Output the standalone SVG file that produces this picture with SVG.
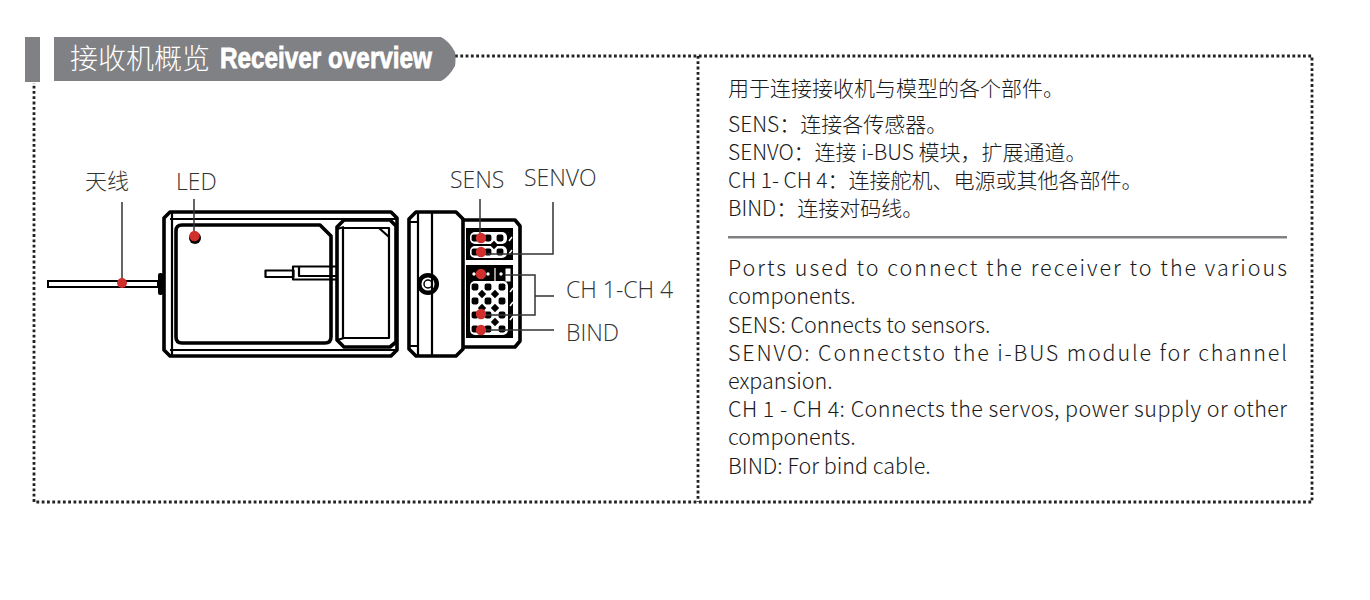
<svg xmlns="http://www.w3.org/2000/svg" width="1370" height="600" viewBox="0 0 1370 600">
<style>
.dot{fill:none;stroke:#222;stroke-width:2.800;stroke-dasharray:2.800 2.500}
.lbl{font-family:"Open Sans","Noto Sans CJK SC",sans-serif;font-weight:300;font-size:23px;fill:#333}
.t{font-family:"Noto Sans CJK SC","Noto Sans",sans-serif;font-size:21px;fill:#1a1a1a;font-weight:300}
.e{font-size:21.500px}
.k{fill:none;stroke:#000;stroke-width:2.2;stroke-linejoin:round}
.th{fill:none;stroke:#000;stroke-width:3.6;stroke-linejoin:round}
.red{fill:#d12f2c}
.conn{fill:none;stroke:#333;stroke-width:1.5}
</style>
<defs>
<rect id="pin" x="-3.400" y="-3.400" width="6.800" height="6.800" rx="1.800" fill="#000"/>
<path id="dia" d="M0-4.200L4.200 0L0 4.200L-4.200 0Z" fill="#000"/>
</defs>
<rect width="1370" height="600" fill="#fff"/>
<g id="frame">
<path class="dot" d="M455 56H1312V502H34V83"/>
<path class="dot" d="M698 56V502"/>
</g>
<g id="header">
<rect x="25" y="37" width="15" height="45" fill="#808184"/>
<path d="M54 37H441Q449 41 455 52Q456 59 455 66Q449 77 441 81H54Z" fill="#808184"/>
<text x="70" y="69" font-family="'Noto Sans CJK SC',sans-serif" font-weight="200" font-size="28" fill="#fff">接收机概览</text>
<text x="220" y="68" font-family="'Liberation Sans',sans-serif" font-weight="700" font-size="29" fill="#fff" stroke="#fff" stroke-width=".8" textLength="212" lengthAdjust="spacingAndGlyphs">Receiver overview</text>
</g>
<g id="receiver-top">
<path class="th" d="M170 212H391L397 218V350L391 356H170L164 350V218Z"/>
<path class="k" d="M170 219H397M170 350H397M172 212V356"/>
<path class="th" d="M182 225H320L331 236V337Q331 343 325 343H182Q176 343 176 337V231Q176 225 182 225Z"/>
<path class="th" d="M344 220H390L396 226V342L390 347H344L337 340V227Z"/>
<path class="k" d="M343 228H389V338H343Z"/>
<path class="k" d="M337 229L344 227M337 340L344 338M379 228L389 237"/>
<rect x="265.500" y="270.500" width="28" height="6.500" class="k" fill="#fff"/>
<path class="k" d="M336 266.500H293V279.500H336"/>
<path class="k" d="M299 266.500V276H336"/>
</g>
<g id="antenna">
<rect x="48" y="281" width="110" height="6" fill="#fff" stroke="#000" stroke-width="2"/>
<rect x="158" y="273" width="5" height="22" rx="2" fill="#000"/>
</g>
<g id="receiver-side">
<path class="th" d="M416 212H456L463 219V349L456 356H416L409 349V219Z"/>
<path class="k" d="M418 212V356M432 212V356M410 222H418M410 346H418"/>
<path class="th" d="M463 220H515L520 226V341L515 347H463"/>
<circle cx="428" cy="284" r="8.800" fill="none" stroke="#000" stroke-width="4.500"/>
<circle cx="428" cy="284" r="4" fill="none" stroke="#000" stroke-width="1.500"/>
<rect x="466" y="228" width="47" height="32" fill="#000"/>
<rect x="466" y="265" width="47" height="73" fill="#000"/>
<g id="ports-top">
<rect x="470" y="232" width="37" height="12" rx="5" fill="#fff"/>
<rect x="470" y="246" width="37" height="12" rx="5" fill="#fff"/>
<use href="#pin" x="475" y="238"/><use href="#pin" x="488" y="238"/><use href="#pin" x="500" y="238"/>
<use href="#pin" x="475" y="252"/><use href="#pin" x="488" y="252"/><use href="#pin" x="500" y="252"/>
<use href="#dia" x="494" y="245"/>
</g>
<g id="ports-grid">
<rect x="505" y="268" width="6" height="14" fill="#fff" stroke="#000"/>
<path d="M495 268V281" stroke="#fff" stroke-width="1.200"/>
<circle cx="474" cy="274" r="1.700" fill="#fff"/><circle cx="488" cy="274" r="1.700" fill="#fff"/><circle cx="501" cy="274" r="1.700" fill="#fff"/>
<rect x="470" y="281" width="38" height="54" rx="5" fill="#fff"/>
<use href="#pin" x="475" y="287"/><use href="#pin" x="488" y="287"/><use href="#pin" x="502" y="287"/>
<use href="#dia" x="482" y="294"/><use href="#dia" x="495" y="294"/>
<use href="#pin" x="475" y="301"/><use href="#pin" x="488" y="301"/><use href="#pin" x="502" y="301"/>
<use href="#dia" x="482" y="308"/><use href="#dia" x="495" y="308"/>
<use href="#pin" x="475" y="315"/><use href="#pin" x="488" y="315"/><use href="#pin" x="502" y="315"/>
<use href="#dia" x="495" y="322"/>
<use href="#pin" x="475" y="329"/><use href="#pin" x="488" y="329"/><use href="#pin" x="502" y="329"/>
</g>
<path d="M509 241L512 237M509 254L512 250M510 292L513 288M510 306L513 302M510 320L513 316" stroke="#fff" stroke-width="1.500"/>
</g>
<g id="connectors">
<path class="conn" d="M122 202V283"/>
<path class="conn" d="M194 199V236"/>
<path class="conn" d="M480 199V238"/>
<path class="conn" d="M481 254H553V202"/>
<path class="conn" d="M505 275H535V315H481M535 296H554"/>
<path class="conn" d="M481 330H554"/>
</g>
<g id="markers">
<circle cx="195" cy="238" r="6" fill="#000"/>
<circle class="red" cx="194.500" cy="236" r="5.200"/>
<circle class="red" cx="122" cy="283" r="5"/>
<circle class="red" cx="481" cy="238" r="5.200"/>
<circle class="red" cx="481" cy="252" r="5.200"/>
<circle class="red" cx="481" cy="274" r="5.200"/>
<circle class="red" cx="481" cy="314" r="5.200"/>
<circle class="red" cx="481" cy="330" r="5.200"/>
</g>
<g id="label-antenna"><text class="lbl" x="85" y="189" style="font-family:'Noto Sans CJK SC',sans-serif;font-size:22px">天线</text></g>
<g id="label-led"><text class="lbl" x="176" y="190">LED</text></g>
<g id="label-sens"><text class="lbl" x="450" y="188">SENS</text></g>
<g id="label-senvo"><text class="lbl" x="524" y="186">SENVO</text></g>
<g id="label-ch"><text class="lbl" x="566" y="298">CH 1-CH 4</text></g>
<g id="label-bind"><text class="lbl" x="566" y="341">BIND</text></g>
<g id="desc-zh">
<text class="t" x="728" y="96">用于连接接收机与模型的各个部件。</text>
<text class="t" x="728" y="132">SENS：连接各传感器。</text>
<text class="t" x="728" y="160">SENVO：连接 i-BUS 模块，扩展通道。</text>
<text class="t" x="728" y="188">CH 1- CH 4：连接舵机、电源或其他各部件。</text>
<text class="t" x="728" y="216">BIND：连接对码线。</text>
</g>
<rect id="rule" x="728" y="236" width="559" height="2.500" fill="#808184"/>
<g id="desc-en">
<text class="t e" x="728" y="276" textLength="559">Ports used to connect the receiver to the various</text>
<text class="t e" x="728" y="304">components.</text>
<text class="t e" x="728" y="332.500">SENS: Connects to sensors.</text>
<text class="t e" x="728" y="361" textLength="559">SENVO: Connectsto the i-BUS module for channel</text>
<text class="t e" x="728" y="389">expansion.</text>
<text class="t e" x="728" y="417" textLength="559">CH 1 - CH 4: Connects the servos, power supply or other</text>
<text class="t e" x="728" y="445">components.</text>
<text class="t e" x="728" y="474">BIND: For bind cable.</text>
</g>
</svg>
